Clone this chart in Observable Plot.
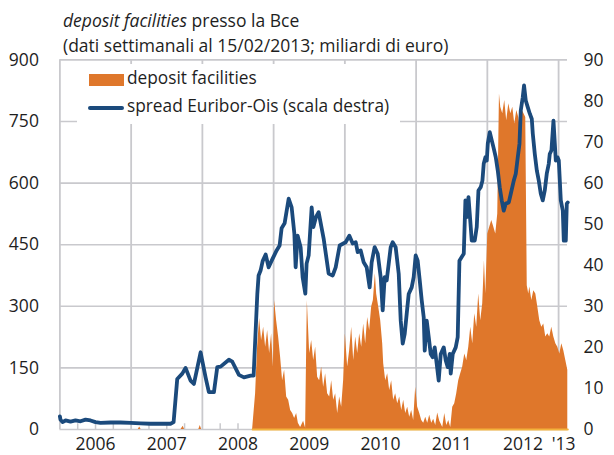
<!DOCTYPE html>
<html><head><meta charset="utf-8">
<script src="https://cdn.jsdelivr.net/npm/d3@7"></script>
<script src="https://cdn.jsdelivr.net/npm/@observablehq/plot@0.6"></script>
<style>
body{margin:0;background:#fff;font-family:"Open Sans",sans-serif;color:#1e1e1e}
#wrap{position:relative;width:614px;height:455px;overflow:hidden}
#chart{position:absolute;left:0;top:0}
.tl{position:absolute;left:63px;font-size:17.5px;line-height:17.5px;white-space:nowrap}
#legend{position:absolute;left:77px;top:64px;width:323px;height:60px;background:#fff}
.sw{position:absolute;left:12px;top:10px;width:35px;height:12px;background:#df772b}
.ln{position:absolute;left:11px;top:41.5px;width:36px;height:4px;background:#1b4a7c;border-radius:2px}
.lt{position:absolute;left:50px;font-size:17.3px;line-height:17.3px;white-space:nowrap}
</style>
</head><body>
<div id="wrap">
<div id="chart"></div>
<div class="tl" style="top:12.2px"><i>deposit facilities</i> presso la Bce</div>
<div class="tl" style="top:36.8px">(dati settimanali al 15/02/2013; miliardi di euro)</div>
<div id="legend"><div class="sw"></div><div class="lt" style="top:4.6px">deposit facilities</div><div class="ln"></div><div class="lt" style="top:33.3px">spread Euribor-Ois (scala destra)</div></div>
</div>
<script>
// Spread Euribor-OIS (right scale, basis points) — time in decimal years
const spreadT = [2006.000,2006.008,2006.037,2006.079,2006.149,2006.219,2006.289,2006.360,2006.430,2006.500,2006.570,2006.711,2006.851,2006.992,2007.132,2007.272,2007.413,2007.553,2007.596,2007.647,2007.718,2007.764,2007.834,2007.881,2007.975,2008.045,2008.091,2008.162,2008.209,2008.256,2008.372,2008.420,2008.513,2008.583,2008.677,2008.719,2008.771,2008.789,2008.817,2008.846,2008.888,2008.930,2008.986,2009.042,2009.084,2009.112,2009.154,2009.211,2009.253,2009.291,2009.309,2009.337,2009.379,2009.407,2009.445,2009.463,2009.492,2009.534,2009.558,2009.594,2009.632,2009.702,2009.772,2009.829,2009.871,2009.927,2010.011,2010.063,2010.110,2010.152,2010.180,2010.222,2010.264,2010.306,2010.348,2010.376,2010.418,2010.461,2010.503,2010.531,2010.559,2010.587,2010.615,2010.643,2010.671,2010.713,2010.756,2010.784,2010.812,2010.840,2010.868,2010.896,2010.938,2010.966,2010.994,2011.022,2011.051,2011.079,2011.107,2011.121,2011.149,2011.177,2011.205,2011.233,2011.261,2011.289,2011.317,2011.346,2011.388,2011.416,2011.444,2011.472,2011.486,2011.514,2011.556,2011.584,2011.608,2011.640,2011.669,2011.692,2011.711,2011.735,2011.753,2011.781,2011.823,2011.851,2011.875,2011.907,2011.931,2011.949,2011.973,2011.992,2012.006,2012.034,2012.062,2012.086,2012.118,2012.146,2012.174,2012.202,2012.230,2012.258,2012.301,2012.329,2012.371,2012.399,2012.427,2012.451,2012.469,2012.497,2012.515,2012.539,2012.567,2012.596,2012.624,2012.638,2012.666,2012.694,2012.722,2012.750,2012.778,2012.806,2012.834,2012.862,2012.876,2012.900,2012.928,2012.947,2012.961,2012.985,2013.003,2013.031,2013.059,2013.073,2013.101,2013.115,2013.129];
const spreadV = [3.2,2.4,1.8,2.2,1.9,2.2,2.0,2.4,2.2,1.8,1.6,1.7,1.7,1.6,1.5,1.4,1.4,1.4,1.8,12.3,13.6,15.0,11.9,11.1,18.8,12.7,9.1,9.1,15.2,15.3,17.0,16.5,13.3,12.7,13.1,13.1,33.0,37.5,38.7,41.0,42.6,39.5,41.6,43.6,44.8,49.0,50.2,56.2,54.1,47.7,39.5,47.2,44.4,37.1,33.1,40.4,42.4,54.1,49.3,51.7,52.9,46.5,38.0,37.5,39.5,44.8,45.6,47.2,45.3,45.6,43.2,43.6,40.7,39.5,34.6,40.7,44.4,42.8,37.1,29.0,37.1,36.3,40.3,44.4,45.6,44.4,37.9,26.5,20.9,23.3,28.2,33.0,34.6,37.1,42.4,41.1,36.3,31.4,27.3,19.2,26.5,22.5,18.4,17.6,20.0,16.0,11.9,18.4,20.0,16.8,15.2,18.4,13.6,18.4,20.0,22.5,41.1,42.0,42.8,55.8,51.7,56.6,52.5,46.0,46.0,49.3,58.2,59.0,60.6,64.7,66.3,65.5,69.6,72.4,70.4,68.7,66.3,63.1,59.0,55.8,53.3,55.0,55.3,57.4,60.6,62.3,66.3,69.6,77.7,80.9,83.8,80.1,78.5,76.9,75.6,72.0,67.1,63.1,60.6,57.4,55.8,58.2,62.3,64.7,67.1,68.0,75.2,69.6,65.5,66.3,65.5,55.8,53.3,46.0,46.0,55.0,55.3];

// Deposit facilities (left scale, billions of euro)
const depoT = [2006.000,2007.100,2007.120,2007.140,2007.700,2007.730,2007.750,2007.950,2007.970,2007.990,2008.705,2008.719,2008.747,2008.775,2008.803,2008.831,2008.860,2008.888,2008.916,2008.944,2008.972,2008.996,2009.014,2009.042,2009.070,2009.098,2009.126,2009.154,2009.183,2009.211,2009.239,2009.267,2009.295,2009.323,2009.347,2009.379,2009.421,2009.449,2009.473,2009.506,2009.534,2009.562,2009.590,2009.618,2009.646,2009.674,2009.702,2009.730,2009.758,2009.787,2009.815,2009.843,2009.871,2009.899,2009.927,2009.955,2009.983,2010.007,2010.039,2010.067,2010.096,2010.124,2010.152,2010.180,2010.208,2010.236,2010.264,2010.292,2010.320,2010.348,2010.376,2010.400,2010.428,2010.446,2010.475,2010.503,2010.531,2010.545,2010.573,2010.601,2010.629,2010.657,2010.685,2010.713,2010.742,2010.770,2010.798,2010.826,2010.854,2010.882,2010.910,2010.938,2010.966,2010.994,2011.022,2011.051,2011.079,2011.107,2011.135,2011.163,2011.191,2011.219,2011.247,2011.275,2011.303,2011.332,2011.346,2011.374,2011.402,2011.430,2011.458,2011.486,2011.514,2011.542,2011.570,2011.598,2011.626,2011.654,2011.683,2011.711,2011.739,2011.767,2011.795,2011.823,2011.851,2011.879,2011.907,2011.935,2011.959,2011.978,2012.006,2012.034,2012.062,2012.090,2012.118,2012.146,2012.170,2012.188,2012.216,2012.244,2012.272,2012.301,2012.329,2012.357,2012.385,2012.413,2012.441,2012.459,2012.483,2012.511,2012.539,2012.560,2012.581,2012.596,2012.624,2012.652,2012.680,2012.708,2012.736,2012.764,2012.792,2012.820,2012.848,2012.876,2012.904,2012.933,2012.961,2012.989,2013.017,2013.045,2013.073,2013.101,2013.129];
const depoV = [0,0,6,0,0,8,0,0,10,0,0,29,87,200,270,217,249,200,241,185,233,152,314,265,225,176,119,144,79,71,46,39,27,39,15,5,20,3,314,185,217,168,200,127,119,152,103,136,87,79,119,71,87,39,79,54,120,233,152,192,249,168,225,185,233,200,257,209,273,241,298,314,379,330,298,265,209,160,119,136,95,119,71,87,63,79,46,71,39,54,30,46,22,103,54,39,22,15,30,15,35,15,25,10,40,20,15,5,39,10,22,5,54,63,87,119,136,152,184,168,200,249,209,282,249,330,265,306,411,330,476,493,509,493,476,525,817,785,769,801,752,793,769,785,744,777,760,736,780,770,760,350,330,347,314,338,330,298,265,249,257,225,233,225,249,225,209,200,184,209,192,168,144];

const leftTicks = [0,150,300,450,600,750,900];
const rightTicks = [0,10,20,30,40,50,60,70,80,90];
const yearLines = [2006,2007,2008,2009,2010,2011,2012,2013];
const yearLabels = ["2006","2007","2008","2009","2010","2011","2012","'13"];
const yearLabelPos = [2006.5,2007.5,2008.5,2009.5,2010.5,2011.5,2012.5,2013.07];
const quarterTicks = [2006.25,2006.5,2006.75,2007.25,2007.5,2007.75,2008.25,2008.5,2008.75,2009.25,2009.5,2009.75,2010.25,2010.5,2010.75,2011.25,2011.5,2011.75,2012.25,2012.5,2012.75];

const spread = spreadT.map((t,i)=>({t, v: spreadV[i]}));
const depo = depoT.map((t,i)=>({t, v: depoV[i]}));
const ratio = 900/90;
const grid = "#c9c9cd";

const chart = Plot.plot({
  width: 614, height: 455,
  marginLeft: 59.4, marginRight: 47, marginTop: 59.4, marginBottom: 26,
  style: {fontFamily: "Open Sans, sans-serif", fontSize: "17.5px", color: "#1e1e1e", background: "#fff"},
  x: {type: "linear", domain: [2006, 2013.125]},
  y: {domain: [0, 900]},
  marks: [
    Plot.ruleY(leftTicks, {stroke: grid, strokeWidth: 1.6}),
    Plot.ruleX(yearLines, {stroke: grid, strokeWidth: 1.8}),
    Plot.ruleX(quarterTicks, {y1: 0, y2: 14, stroke: grid, strokeWidth: 1.5}),
    Plot.areaY(depo, {x: "t", y: "v", fill: "#df772b", curve: "linear"}),
    Plot.lineY(depo.filter(d => d.t >= 2008.7), {x: "t", y: () => 0, stroke: "#f3b23c", strokeWidth: 2}),
    Plot.lineY(spread, {x: "t", y: d => d.v * ratio, stroke: "#1b4a7c", strokeWidth: 3.8, strokeLinejoin: "round", strokeLinecap: "round"}),
    Plot.axisY(leftTicks, {anchor: "left", tickSize: 0, tickPadding: 21, label: null, fontSize: 17.5}),
    Plot.axisY(rightTicks.map(d => d * ratio), {anchor: "right", tickSize: 0, tickPadding: 16, label: null, tickFormat: d => d / ratio, fontSize: 17.5}),
    Plot.axisX(yearLabelPos, {anchor: "bottom", tickSize: 0, tickPadding: 8, label: null, tickFormat: (d, i) => yearLabels[i], fontSize: 17.5})
  ]
});
document.getElementById("chart").appendChild(chart);
</script>
</body></html>
